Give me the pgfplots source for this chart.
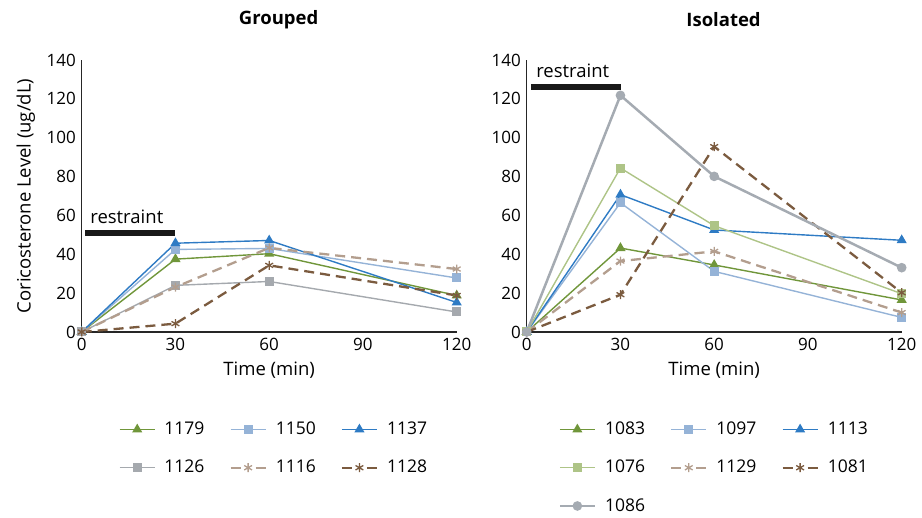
\documentclass[border=0pt]{standalone}
\usepackage{pgfplots}
\pgfplotsset{compat=1.18}
\usepackage{fontspec}
\setmainfont{Open Sans}
\definecolor{cgreen}{HTML}{70963A}
\definecolor{clblue}{HTML}{95B3D7}
\definecolor{cblue}{HTML}{2E7BC4}
\definecolor{cgray}{HTML}{A5A9AE}
\definecolor{ctan}{HTML}{B39E8E}
\definecolor{cbrown}{HTML}{7B5B3F}
\definecolor{clgreen}{HTML}{AEC487}
\definecolor{cgrayc}{HTML}{A5ABB2}
\begin{document}
\fontsize{17}{20}\selectfont
\begin{tikzpicture}
\path[use as bounding box] (0,0) rectangle (922pt,518pt);
\pgfplotsset{
 myax/.style={
  scale only axis, width=375pt, height=272pt,
  xmin=0,xmax=120,ymin=0,ymax=140,
  xtick={0,30,60,90,120}, ytick={0,20,...,140},
  axis lines=left, axis line style={-, line width=1.2pt, black!85},
  major tick length=0pt,
  tick label style={font=\fontsize{17}{20}\selectfont},
  /pgf/number format/assume math mode=true,
  clip=false,
  xlabel={Time (min)},
  label style={font=\fontsize{18.5}{21}\selectfont},
  title style={font=\fontsize{18.5}{21}\selectfont\bfseries, at={(0.525,1)}, anchor=center, yshift=34pt},
  legend columns=3,
  legend style={draw=none, fill=none, anchor=north, font=\fontsize{17.5}{20}\selectfont,
     row sep=19pt,
     /tikz/every odd column/.append style={column sep=7pt},
     /tikz/every even column/.append style={column sep=23pt}},
  legend cell align=left,
  legend image code/.code={\draw[mark repeat=2,mark phase=2,##1] plot coordinates {(0pt,0pt)(17.5pt,0pt)(35pt,0pt)};},
  sol/.style={line width=1.4pt, mark options={solid}},
  dsh/.style={line width=2.3pt, dash pattern=on 10pt off 6pt, mark options={solid, line width=1.3pt},
     legend image post style={dash pattern=on 10pt off 15pt}},
 }
}
\begin{axis}[myax, at={(81.7pt,186pt)}, anchor=south west,
  title={Grouped},
  ylabel={Coricosterone Level (ug/dL)},
  legend style={at={(0.513,-0.315)}}]
\addplot[forget plot, line width=6pt, black!90] coordinates {(1.2,51) (29.8,51)};
\node[anchor=base west, inner sep=0pt, font=\fontsize{18.5}{21}\selectfont] at (axis cs:2.7,56) {restraint};
\addplot[sol, color=cgreen, mark=triangle*, mark size=4.5pt] coordinates {(0,0) (30,37.5) (60,40.3) (120,18.8)};
\addlegendentry{1179}
\addplot[sol, color=clblue, mark=square*, mark size=3.8pt] coordinates {(0,0) (30,42.5) (60,43) (120,27.8)};
\addlegendentry{1150}
\addplot[sol, color=cblue, mark=triangle*, mark size=4.5pt] coordinates {(0,0) (30,45.7) (60,47.1) (120,15.2)};
\addlegendentry{1137}
\addplot[sol, color=cgray, mark=square*, mark size=3.8pt] coordinates {(0,0) (30,24) (60,26) (120,10.3)};
\addlegendentry{1126}
\addplot[dsh, color=ctan, mark=asterisk, mark size=4.5pt] coordinates {(0,0) (30,23.1) (60,43.3) (120,32.4)};
\addlegendentry{1116}
\addplot[dsh, color=cbrown, mark=asterisk, mark size=4.5pt] coordinates {(0,0) (30,4.3) (60,34.3) (120,18.8)};
\addlegendentry{1128}
\end{axis}
\begin{axis}[myax, at={(526.7pt,186pt)}, anchor=south west,
  title={Isolated},
  legend style={at={(0.5,-0.315)}}]
\addplot[forget plot, line width=6pt, black!90] coordinates {(1.3,126.2) (30.2,126.2)};
\node[anchor=base west, inner sep=0pt, font=\fontsize{18.5}{21}\selectfont] at (axis cs:3,131) {restraint};
\addplot[sol, color=cgreen, mark=triangle*, mark size=4.5pt] coordinates {(0,0) (30,43.2) (60,34.5) (120,16.5)};
\addlegendentry{1083}
\addplot[sol, color=clblue, mark=square*, mark size=3.8pt] coordinates {(0,0) (30,66.5) (60,31.2) (120,7.5)};
\addlegendentry{1097}
\addplot[sol, color=cblue, mark=triangle*, mark size=4.5pt] coordinates {(0,0) (30,70.7) (60,52.5) (120,47.2)};
\addlegendentry{1113}
\addplot[sol, color=clgreen, mark=square*, mark size=3.8pt] coordinates {(0,0) (30,84.4) (60,54.7) (120,19.7)};
\addlegendentry{1076}
\addplot[dsh, color=ctan, mark=asterisk, mark size=4.5pt] coordinates {(0,0) (30,36.5) (60,41.5) (120,10)};
\addlegendentry{1129}
\addplot[dsh, color=cbrown, mark=asterisk, mark size=4.5pt] coordinates {(0,0) (30,19.2) (60,95.4) (120,20.2)};
\addlegendentry{1081}
\addplot[line width=2.5pt, color=cgrayc, mark=*, mark size=3.5pt] coordinates {(0,0) (30,121.8) (60,80.1) (120,33.1)};
\addlegendentry{1086}
\end{axis}
\end{tikzpicture}
\end{document}
